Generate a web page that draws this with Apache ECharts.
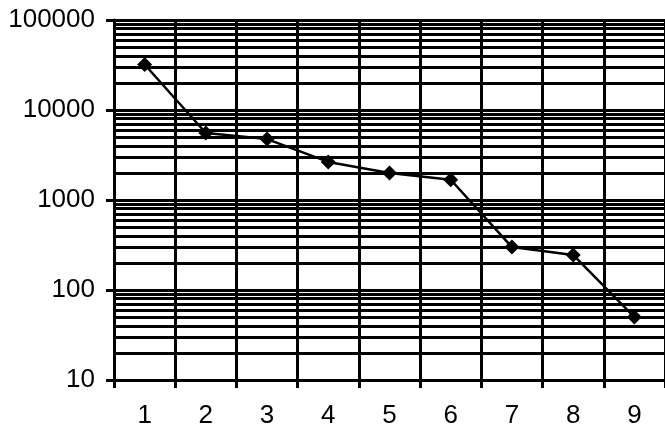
<!DOCTYPE html>
<html>
<head>
<meta charset="utf-8">
<script src="https://cdn.jsdelivr.net/npm/echarts@6/dist/echarts.min.js"></script>
<style>html,body{margin:0;padding:0;background:#fff}#c{width:665px;height:430px}</style>
</head>
<body>
<div id="c"></div>
<script>
var categories = ['1','2','3','4','5','6','7','8','9'];
var values = [32000, 5550, 4750, 2650, 2000, 1680, 300, 245, 50];
var minorLevels = [20,30,40,50,60,70,80,90,200,300,400,500,600,700,800,900,2000,3000,4000,5000,6000,7000,8000,9000,20000,30000,40000,50000,60000,70000,80000,90000];

var chart = echarts.init(document.getElementById('c'), null, {renderer:'canvas'});
var font = '"Liberation Sans", Arial, sans-serif';
chart.setOption({
  animation: false,
  backgroundColor: '#fff',
  grid: {left:114, right:-4, top:20, bottom:50, containLabel:false},
  xAxis: {
    type:'category', data:categories, boundaryGap:true,
    axisLine:{show:true, lineStyle:{color:'#000', width:3}},
    axisTick:{show:true, length:8, lineStyle:{color:'#000', width:3}},
    splitLine:{show:true, lineStyle:{color:'#000', width:3}},
    axisLabel:{color:'#000', fontSize:26, fontFamily:font, margin:23}
  },
  yAxis: {
    type:'log', logBase:10, min:10, max:100000,
    axisLine:{show:true, lineStyle:{color:'#000', width:3}},
    axisTick:{show:true, length:8, lineStyle:{color:'#000', width:3}},
    splitLine:{show:true, lineStyle:{color:'#000', width:3}},
    axisLabel:{color:'#000', fontSize:26, fontFamily:font, margin:19,
      formatter:function(v){return String(Math.round(v));}}
  },
  series: [
    {
      type:'line', data:[], z:1, silent:true,
      markLine:{
        silent:true, symbol:['none','none'],
        label:{show:false},
        lineStyle:{color:'#000', width:3, type:'solid'},
        data: minorLevels.map(function(v){return {yAxis:v};})
      }
    },
    {
      type:'line', data:values, z:5,
      symbol:'diamond', symbolSize:15,
      lineStyle:{color:'#000', width:2.5},
      itemStyle:{color:'#000'}
    }
  ]
});
</script>
</body>
</html>
